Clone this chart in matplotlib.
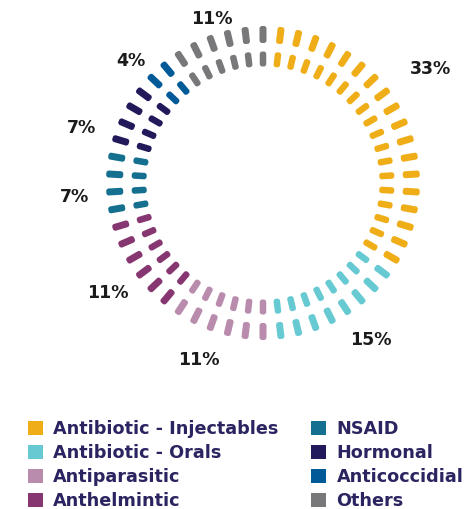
import numpy as np
import matplotlib
matplotlib.use("Agg")
import matplotlib.pyplot as plt
from matplotlib.patches import FancyBboxPatch, Patch
from matplotlib.transforms import Affine2D

categories = ["Antibiotic - Injectables", "Antibiotic - Orals", "Antiparasitic", "Anthelmintic",
              "NSAID", "Hormonal", "Anticoccidial", "Others"]
shares = [33, 15, 11, 11, 7, 7, 4, 11]
colors = ["#EFAE17", "#67CAD2", "#B98CAD", "#863670", "#14708E", "#22195A", "#005A98", "#78787B"]
pct_labels = ["33%", "15%", "11%", "11%", "7%", "7%", "4%", "11%"]

# hand nudges (px) for the percentage labels, like in the original
label_nudge = [(3, 19), (5, 3), (-16, 7), (0, 0), (1, -5), (-6, -18), (7, -7), (14, -15)]

n_dash = 54
step = 360 / n_dash
counts = [int(round(s / sum(shares) * n_dash)) for s in shares]

fig = plt.figure(figsize=(4.71, 5.09), dpi=100)
ax = fig.add_axes([0, 0, 1, 1])
ax.set_xlim(-263, 208)
ax.set_ylim(-326, 183)
ax.set_aspect("equal")
ax.axis("off")

# each dash is a small rounded bar pointing out from the centre, two rings
rings = [(148.5, 17, 7), (124, 15, 6.5)]
k = 1
for cnt, col in zip(counts, colors):
    for _ in range(cnt):
        theta = 90 - k * step
        for r_mid, length, width in rings:
            x = r_mid * np.cos(np.radians(theta))
            y = r_mid * np.sin(np.radians(theta))
            p = FancyBboxPatch((-length / 2, -width / 2), length, width,
                               boxstyle="round,pad=0,rounding_size=2.6",
                               fc=col, ec="none")
            p.set_transform(Affine2D().rotate_deg(theta).translate(x, y) + ax.transData)
            ax.add_patch(p)
        k += 1

# percentage labels at the middle of each share
cum = np.cumsum([0] + shares)
for i, lab in enumerate(pct_labels):
    mid = (cum[i] + cum[i + 1]) / 2 / cum[-1] * 360
    ang = np.radians(90 - mid)
    dx, dy = label_nudge[i]
    ax.text(190 * np.cos(ang) + dx, 190 * np.sin(ang) + dy, lab, ha="center", va="center",
            fontsize=12.5, fontweight="bold", color="#1b1b1b")

handles = [Patch(fc=c, ec="none") for c in colors]
leg = fig.legend(handles, categories, ncol=2, loc="upper left", bbox_to_anchor=(0.06, 0.175),
                 frameon=False, handlelength=0.85, handleheight=0.85, handletextpad=0.57,
                 labelspacing=0.34, columnspacing=1.86, borderaxespad=0, borderpad=0,
                 prop={"family": "DejaVu Sans", "weight": "bold", "size": 12.7})
for t in leg.get_texts():
    t.set_color("#2A2560")

fig.savefig("out.png", dpi=100)
